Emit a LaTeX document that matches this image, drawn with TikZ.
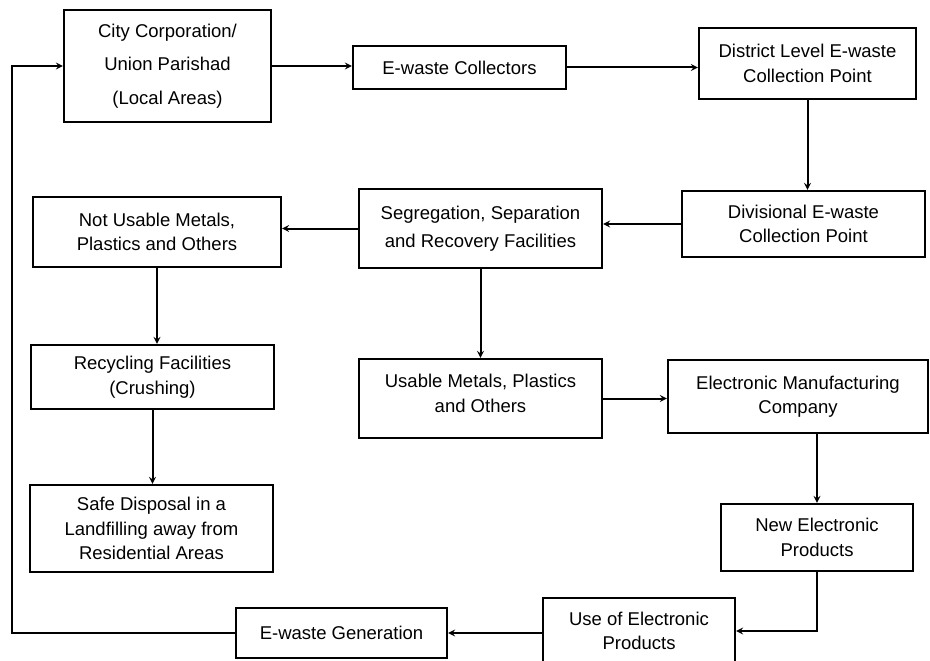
\documentclass[tikz,border=0pt]{standalone}
\usepackage{fontspec}
\setmainfont{Liberation Sans}
\usetikzlibrary{positioning}

\tikzset{
  blk/.style={draw, line width=2.4pt, align=center, inner sep=0pt,
    font=\fontsize{18.5}{24.5}\selectfont},
}

\begin{document}
\begin{tikzpicture}[x=1pt,y=-1pt,line width=2pt]
  \useasboundingbox (0,0) rectangle (930,661);
  % top row
  \node[blk, minimum width=207pt, minimum height=112pt] (city) at (167.5,66) {City Corporation/\\[9pt] Union Parishad\\[9pt] (Local Areas)};
  \node[blk, minimum width=213pt, minimum height=43pt] (coll) at (459.5,67.5) {E-waste Collectors};
  \node[blk, minimum width=217pt, minimum height=71pt] (dist) at (807.5,63.5) {District Level E-waste\\ Collection Point};
  % second row
  \node[blk, minimum width=243pt, minimum height=66pt] (div) at (803.5,224) {Divisional E-waste\\ Collection Point};
  \node[blk, minimum width=243pt, minimum height=79pt] (seg) at (480.5,228.5) {Segregation, Separation\\[4pt] and Recovery Facilities};
  \node[blk, minimum width=248pt, minimum height=70pt] (notus) at (157,232) {Not Usable Metals,\\ Plastics and Others};
  % left column
  \node[blk, minimum width=243pt, minimum height=64pt] (recyc) at (152.5,377) {Recycling Facilities\\ (Crushing)};
  \node[blk, minimum width=243pt, minimum height=87pt] (safe) at (151.5,528.5) {Safe Disposal in a\\ Landfilling away from\\ Residential Areas};
  % right part
  \node[blk, minimum width=243pt, minimum height=79pt, text depth=10pt] (usable) at (480.5,398.5) {Usable Metals, Plastics\\ and Others};
  \node[blk, minimum width=260pt, minimum height=73pt] (emc) at (798,396.5) {Electronic Manufacturing\\ Company};
  \node[blk, minimum width=192pt, minimum height=67pt] (newp) at (817,537.5) {New Electronic\\ Products};
  \node[blk, minimum width=192pt, minimum height=66pt] (use) at (639,631) {Use of Electronic\\ Products};
  \node[blk, minimum width=211pt, minimum height=50pt] (gen) at (341.5,633) {E-waste Generation};

  \path[-stealth]
    (city.east) edge (coll.west |- city.east)
    (coll.east) edge (dist.west |- coll.east)
    (dist.south) edge (dist.south |- div.north)
    (div.west) edge (seg.east |- div.west)
    (seg.west) edge (notus.east |- seg.west)
    (notus.south) edge (notus.south |- recyc.north)
    (recyc.south) edge (recyc.south |- safe.north)
    (seg.south) edge (usable.north)
    (usable.east) edge (emc.west |- usable.east)
    (newp.north |- emc.south) edge (newp.north)
    (gen.east -| use.west) edge (gen.east)
    ;
  \draw[-stealth] (newp.south) |- (use.east);
  \draw[-stealth] (gen.west) -- ++(-223,0) |- (city.west);
\end{tikzpicture}
\end{document}
